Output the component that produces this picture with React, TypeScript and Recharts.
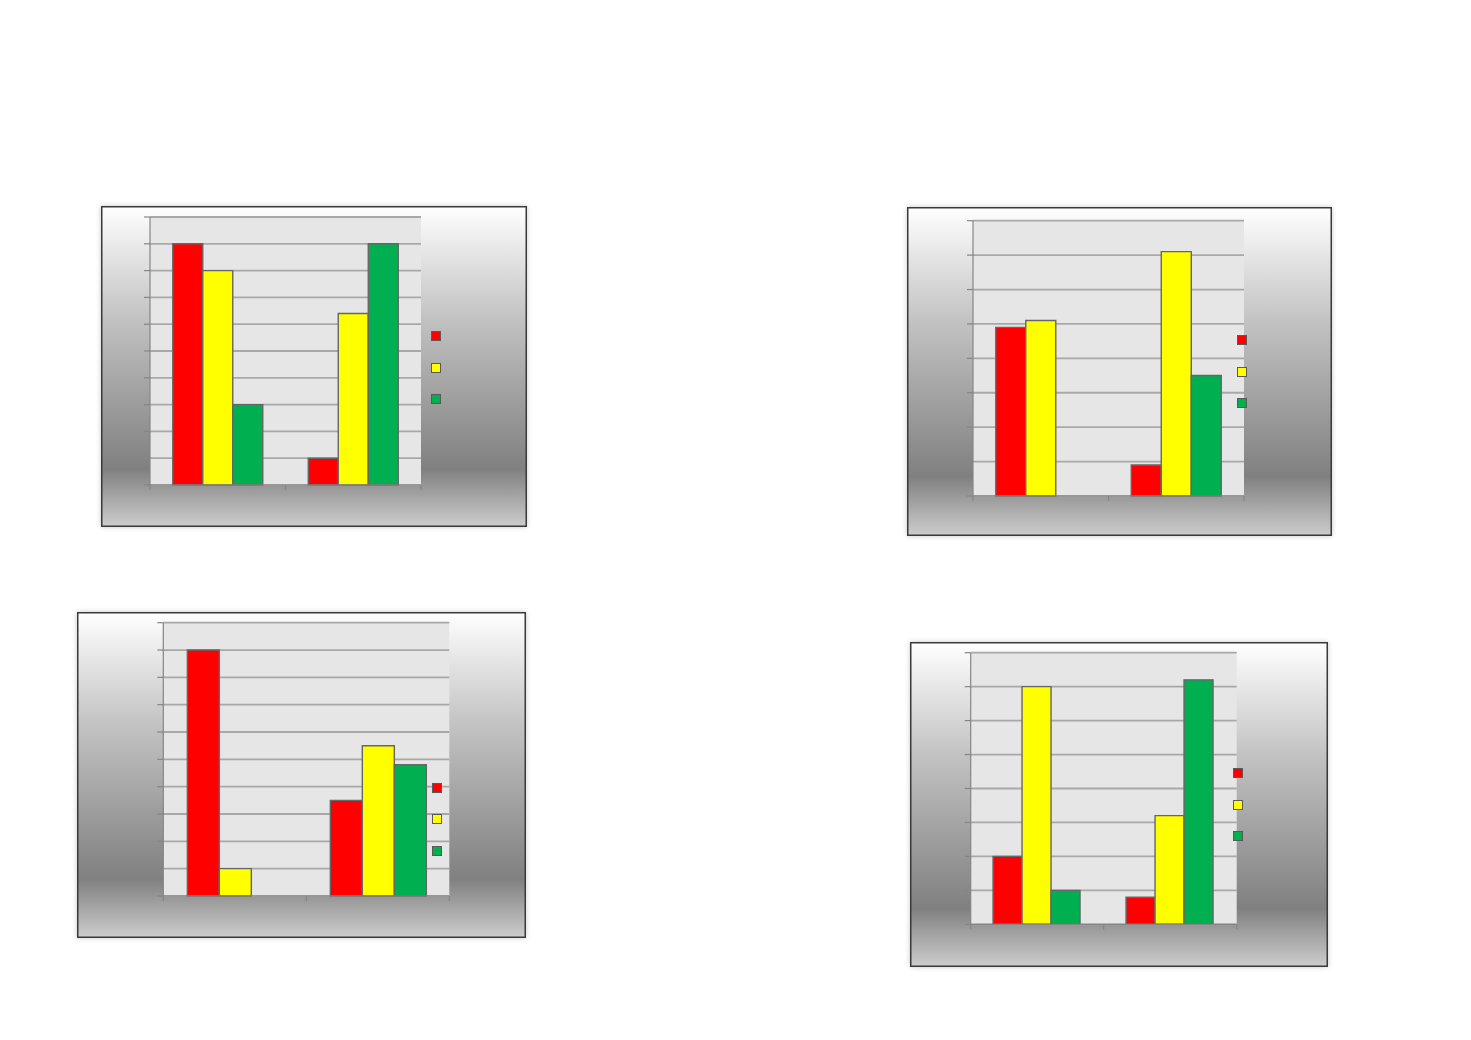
import React from 'react';
import { BarChart, Bar, XAxis, YAxis, CartesianGrid, Legend } from 'recharts';

// ---------- data ----------
const categories = ['Group 1', 'Group 2'];
const seriesNames = ['Red', 'Yellow', 'Green'];
const seriesColors = ['#ff0000', '#ffff00', '#00b050'];

const c1Red = [9, 1];
const c1Yellow = [8, 6.4];
const c1Green = [3, 9];

const c2Red = [4.9, 0.9];
const c2Yellow = [5.1, 7.1];
const c2Green = [0, 3.5];

const c3Red = [9, 3.5];
const c3Yellow = [1, 5.5];
const c3Green = [0, 4.8];

const c4Red = [2, 0.8];
const c4Yellow = [7, 3.2];
const c4Green = [1, 7.2];

const ticks10 = [0, 1, 2, 3, 4, 5, 6, 7, 8, 9, 10];
const ticks8 = [0, 1, 2, 3, 4, 5, 6, 7, 8];

const build = (r: number[], y: number[], g: number[]) =>
  categories.map((c, i) => ({ name: c, Red: r[i], Yellow: y[i], Green: g[i] }));

type PanelProps = {
  data: any[];
  ticks: number[];
  frame: { left: number; top: number; width: number; height: number };
  margin: { top: number; left: number; right: number; bottom: number };
  legendPos: { left: number; top: number };
};

const AXIS = '#858585';

const XTick = (props: any) => {
  const { x, y, payload, index, visibleTicksCount } = props;
  const off = payload && typeof payload.offset === 'number' ? payload.offset : 0;
  const lines = [x - off];
  if (index === (visibleTicksCount ?? 2) - 1) lines.push(x + off);
  return (
    <g>
      {lines.map((lx, i) => (
        <line key={i} x1={lx} x2={lx} y1={y} y2={y + 5} stroke={AXIS} strokeWidth={1.2} />
      ))}
    </g>
  );
};

const EmptyTick = () => <g />;

const LegendSquares = (props: any) => {
  const items = [...(props.payload || [])].sort(
    (a: any, b: any) => seriesNames.indexOf(a.dataKey) - seriesNames.indexOf(b.dataKey)
  );
  return (
    <div>
      {items.map((entry: any, i: number) => (
        <div
          key={i}
          style={{
            width: 10,
            height: 10,
            boxSizing: 'border-box',
            background: entry.color,
            border: '1px solid #5a5a5a',
            marginBottom: i < items.length - 1 ? 21.6 : 0,
          }}
        />
      ))}
    </div>
  );
};

const Panel = ({ data, ticks, frame, margin, legendPos }: PanelProps) => (
  <div
    style={{
      position: 'absolute',
      left: frame.left,
      top: frame.top,
      width: frame.width,
      height: frame.height,
      background: 'linear-gradient(to bottom, #ffffff 0%, #c2c2c2 35%, #808080 82%, #cdcdcd 100%)',
      boxShadow: 'inset 0 0 0 1.5px #3a3a3a, 0 0 5px rgba(0,0,0,0.22)',
    }}
  >
    <div style={{ position: 'absolute', left: 0, top: 0 }}>
      <BarChart
        width={frame.width}
        height={frame.height}
        data={data}
        margin={{ top: margin.top, left: margin.left - 1, right: margin.right, bottom: margin.bottom - 1 }}
        barCategoryGap="16.8%"
        barGap={0}
      >
        <CartesianGrid
          vertical={false}
          fill="#e6e6e6"
          fillOpacity={1}
          stroke="#a8a8a8"
          strokeWidth={1.8}
        />
        <XAxis
          dataKey="name"
          height={1}
          tickLine={false}
          tickSize={0}
          tickMargin={0}
          interval={0}
          axisLine={{ stroke: AXIS, strokeWidth: 1.2 }}
          tick={<XTick />}
        />
        <YAxis
          width={1}
          domain={[ticks[0], ticks[ticks.length - 1]]}
          ticks={ticks}
          interval={0}
          tick={<EmptyTick />}
          tickSize={6}
          tickMargin={0}
          tickLine={{ stroke: AXIS, strokeWidth: 1.2 }}
          axisLine={{ stroke: AXIS, strokeWidth: 1.2 }}
        />
        <Legend
          layout="vertical"
          align="center"
          verticalAlign="middle"
          content={<LegendSquares />}
          wrapperStyle={{ left: legendPos.left, top: legendPos.top, width: 'auto', height: 'auto' }}
        />
        {seriesNames.map((s, i) => (
          <Bar
            key={s}
            dataKey={s}
            fill={seriesColors[i]}
            stroke="#666666"
            strokeWidth={1.4}
            isAnimationActive={false}
          />
        ))}
      </BarChart>
    </div>
  </div>
);

export default function App() {
  return (
    <div
      style={{
        position: 'absolute',
        left: 0,
        top: 0,
        width: 1471,
        height: 1040,
        background: '#ffffff',
        overflow: 'hidden',
      }}
    >
      <Panel
        data={build(c1Red, c1Yellow, c1Green)}
        ticks={ticks10}
        frame={{ left: 101, top: 206, width: 426, height: 321 }}
        margin={{ top: 11, left: 49, right: 106, bottom: 42 }}
        legendPos={{ left: 330, top: 125 }}
      />
      <Panel
        data={build(c2Red, c2Yellow, c2Green)}
        ticks={ticks8}
        frame={{ left: 907, top: 207, width: 425, height: 329 }}
        margin={{ top: 13.7, left: 66, right: 88, bottom: 40 }}
        legendPos={{ left: 330.3, top: 128.3 }}
      />
      <Panel
        data={build(c3Red, c3Yellow, c3Green)}
        ticks={ticks10}
        frame={{ left: 77, top: 612, width: 449, height: 326 }}
        margin={{ top: 10.7, left: 86.3, right: 76.7, bottom: 42 }}
        legendPos={{ left: 355.3, top: 170.7 }}
      />
      <Panel
        data={build(c4Red, c4Yellow, c4Green)}
        ticks={ticks8}
        frame={{ left: 910, top: 642, width: 418, height: 325 }}
        margin={{ top: 10.7, left: 60.7, right: 91.3, bottom: 42.7 }}
        legendPos={{ left: 322.7, top: 126.3 }}
      />
    </div>
  );
}
